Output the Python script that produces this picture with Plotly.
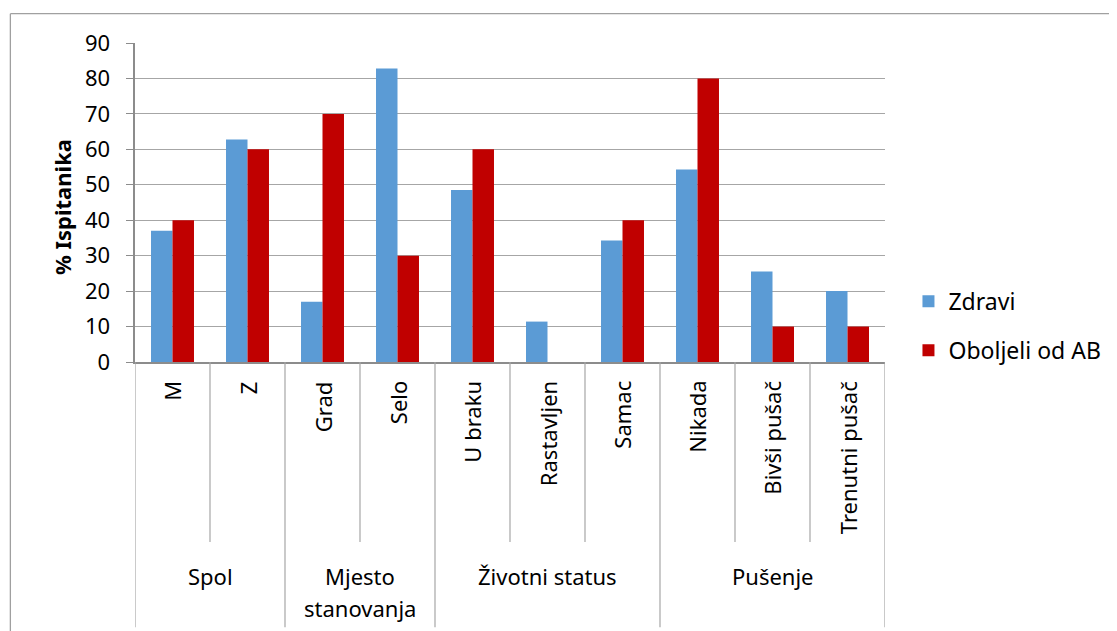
import plotly.graph_objects as go

categories = ["M", "Z", "Grad", "Selo", "U braku", "Rastavljen", "Samac",
              "Nikada", "Bivši pušač", "Trenutni pušač"]
groups = ["Spol", "Spol", "Mjesto<br>stanovanja", "Mjesto<br>stanovanja",
          "Životni status", "Životni status", "Životni status",
          "Pušenje", "Pušenje", "Pušenje"]
zdravi = [37.0, 62.8, 17.0, 82.8, 48.5, 11.4, 34.3, 54.3, 25.5, 20.0]
oboljeli = [40, 60, 70, 30, 60, 0, 40, 80, 10, 10]
y_ticks = [0, 10, 20, 30, 40, 50, 60, 70, 80, 90]

BLUE = "#5B9BD5"
RED = "#C00000"
GRID = "#A6A6A6"
AXIS = "#8C8C8C"
FONT = "Noto Sans"

# page offset (browser body margin)
OFF = 8
W, H = 1117 - OFF, 631 - OFF
# plot area in page pixels (reference)
PX0, PX1, PY0, PY1 = 134.5, 885.5, 42.7, 362.3
L = PX0 - OFF
R = W - (PX1 - OFF)
T = PY0 - OFF
B = H - (PY1 - OFF)
pw = PX1 - PX0
ph = PY1 - PY0


def py(pix):
    return (PY1 - pix) / ph


def px(pix):
    return (pix - PX0) / pw


fig = go.Figure()
fig.add_trace(go.Bar(x=categories, y=zdravi, name="Zdravi", marker_color=BLUE,
                     marker_line_width=0, legendgroup="a"))
fig.add_trace(go.Bar(x=categories, y=oboljeli, name="Oboljeli od AB", marker_color=RED,
                     marker_line_width=0, legendgroup="b"))

shapes = []
annotations = []
n = len(categories)
for i in range(n + 1):
    xpos = i - 0.5
    is_group = i == 0 or i == n or groups[i] != groups[i - 1]
    y1 = py(628) if is_group else py(542.7)
    shapes.append(dict(type="line", xref="x", yref="paper", x0=xpos, x1=xpos,
                       y0=0, y1=y1, line=dict(color=GRID, width=1.2)))
# inner category labels
for i, c in enumerate(categories):
    annotations.append(dict(x=i, y=py(379.5), xref="x", yref="paper", text=c,
                            textangle=-90, showarrow=False, xanchor="center",
                            yanchor="top", font=dict(family=FONT, size=22, color="#000")))
# group labels
start = 0
for i in range(1, n + 1):
    if i == n or groups[i] != groups[i - 1]:
        center = (start + i - 1) / 2
        for k, line in enumerate(groups[start].split("<br>")):
            annotations.append(dict(x=center, y=py(560 + 32 * k), xref="x", yref="paper",
                                    text=line, showarrow=False, xanchor="center",
                                    yanchor="top",
                                    font=dict(family=FONT, size=22, color="#000")))
        start = i

# y axis title
annotations.append(dict(x=px(61.5), y=py(207), xref="paper", yref="paper",
                        xanchor="center", yanchor="middle",
                        text="<b>% Ispitanika</b>", textangle=-90, showarrow=False,
                        font=dict(family=FONT, size=22, color="#000")))

# outer chart border (left and top)
bx = px(9.7)
by = py(13.3)
shapes.append(dict(type="line", xref="paper", yref="paper", x0=bx, x1=bx,
                   y0=py(700), y1=by, line=dict(color="#A0A0A0", width=1.3)))
shapes.append(dict(type="line", xref="paper", yref="paper", x0=bx, x1=px(1200),
                   y0=by, y1=by, line=dict(color="#A0A0A0", width=1.3)))

fig.update_layout(
    width=W, height=H,
    margin=dict(l=L, r=R, t=T, b=B, autoexpand=False),
    paper_bgcolor="white", plot_bgcolor="white",
    barmode="group", bargap=0.427, bargroupgap=0,
    font=dict(family=FONT, size=22, color="#000"),
    showlegend=True,
    legend=dict(x=px(909), y=py(280), xanchor="left", yanchor="top",
                font=dict(family=FONT, size=23, color="#000"),
                tracegroupgap=16, traceorder="grouped", itemwidth=30,
                bgcolor="rgba(0,0,0,0)"),
    shapes=shapes, annotations=annotations,
)
fig.update_xaxes(type="category", showticklabels=False, showgrid=False,
                 showline=True, linecolor=AXIS, linewidth=2, ticks="",
                 range=[-0.5, n - 0.5], zeroline=False)
fig.update_yaxes(range=[0, 90], tickvals=y_ticks, showgrid=True, gridcolor=GRID,
                 gridwidth=1.4, showline=True, linecolor=AXIS, linewidth=2,
                 ticks="outside", ticklen=7.5, tickcolor=AXIS, tickwidth=1.4,
                 ticklabelstandoff=11,
                 zeroline=False, tickfont=dict(family=FONT, size=22, color="#000"))

fig.write_html("out.html")
